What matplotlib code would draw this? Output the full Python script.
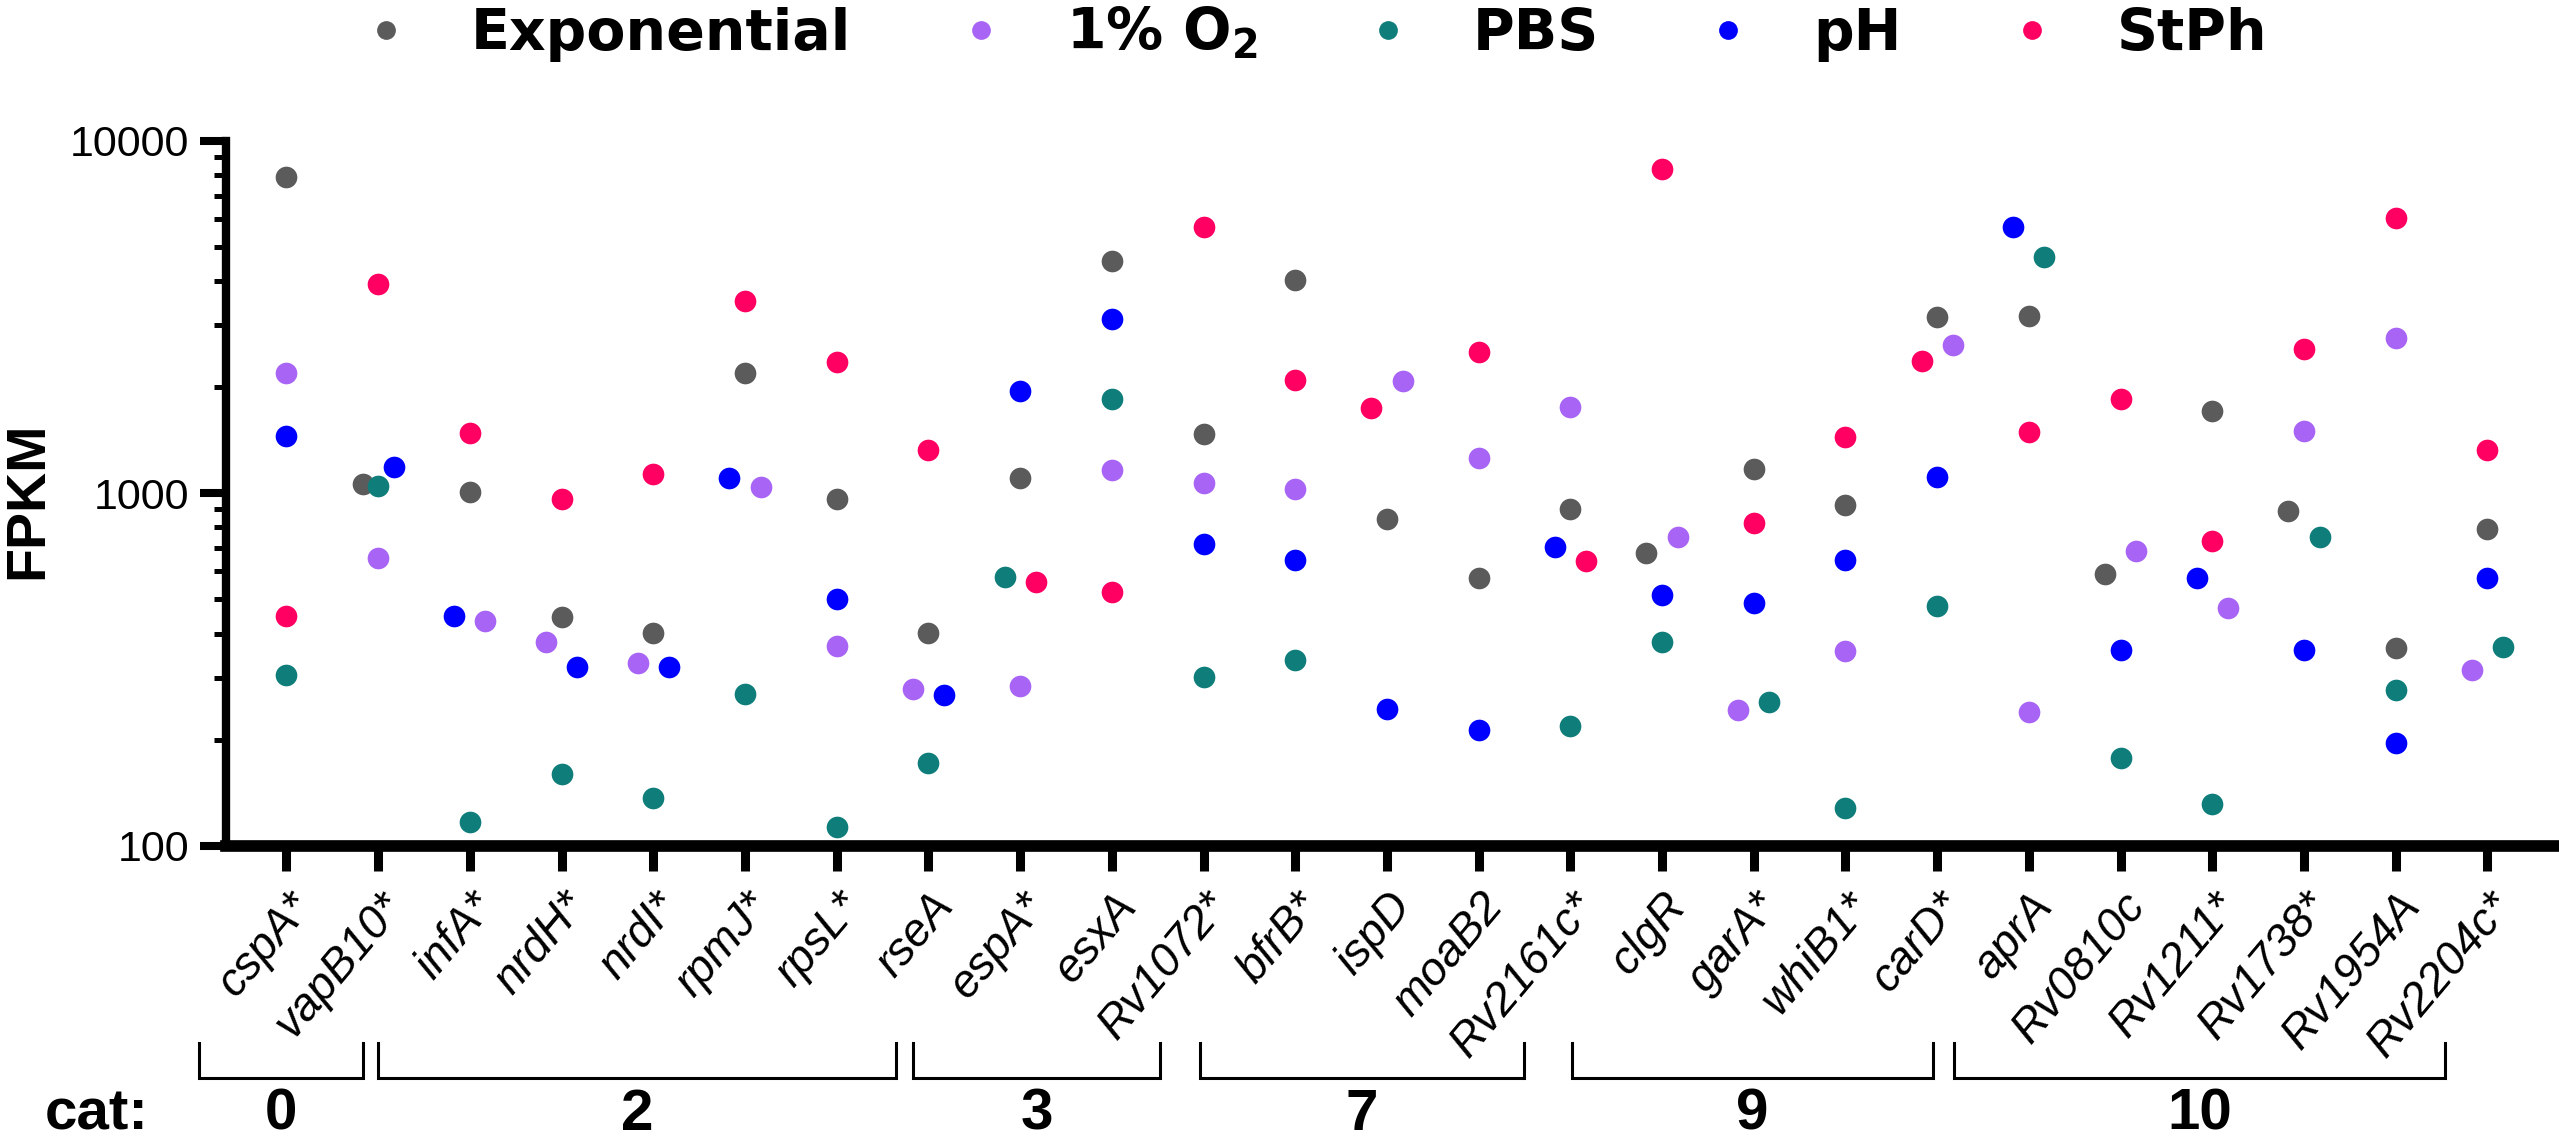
import numpy as np
import matplotlib.pyplot as plt
from matplotlib.lines import Line2D
from matplotlib import transforms
from matplotlib.ticker import NullFormatter, LogLocator

plt.rcParams['font.family'] = ['Liberation Sans', 'DejaVu Sans']
plt.rcParams['mathtext.default'] = 'bf'

# genes on the x axis (asterisk kept as in the figure)
genes = ['cspA*', 'vapB10*', 'infA*', 'nrdH*', 'nrdI*', 'rpmJ*', 'rpsL*', 'rseA',
         'espA*', 'esxA', 'Rv1072*', 'bfrB*', 'ispD', 'moaB2', 'Rv2161c*', 'clgR',
         'garA*', 'whiB1*', 'carD*', 'aprA', 'Rv0810c', 'Rv1211*', 'Rv1738*',
         'Rv1954A', 'Rv2204c*']

# FPKM per condition (nan = not shown)
exponential = [7880, 1062, 1008, 445, 401, 2199, 961, 402, 1103, 4560, 1474, 4030, 845,
               576, 902, 677, 1175, 928, 3170, 3190, 590, 1708, 889, 365, 794]
o2 = [2199, 656, 434, 379, 329, 1044, 369, 278, 284, 1167, 1069, 1031, 2083,
      1257, 1761, 751, 242, 358, 2641, 240, 684, 474, 1505, 2764, 315]
pbs = [306, 1049, 117, 160, 137, 269, 113, 172, 579, 1856, 301, 336, np.nan,
       np.nan, 219, 378, 256, 128, 480, 4674, 177, 131, 750, 277, 367]
ph = [1455, 1185, 449, 322, 321, 1105, 501, 268, 1950, 3130, 718, 646, 245,
      213, 703, 513, 487, 648, 1115, 5710, 359, 576, 359, 196, 576]
stph = [449, 3925, 1480, 966, 1134, 3520, 2363, 1327, 560, 524, 5685, 2097, 1750,
        2518, 642, 8340, 822, 1448, 2374, 1489, 1848, 732, 2567, 6060, 1330]

cond_keys = ['exp', 'o2', 'pbs', 'ph', 'stph']
cond_labels = ['Exponential', '1% O$_2$', 'PBS', 'pH', 'StPh']
series = [exponential, o2, pbs, ph, stph]

categories = ['0', '2', '3', '7', '9', '10']

# ---- layout / style ----
colors = ['#5b5b5b', '#a865f5', '#0f7e7a', '#0000ff', '#ff0062']

# side used for overlapping dots (-1 left, +1 right), as in the original figure
dodge = {
    'vapB10*': {'exp': -1, 'ph': 1},
    'infA*': {'ph': -1, 'o2': 1},
    'nrdH*': {'o2': -1, 'ph': 1},
    'nrdI*': {'o2': -1, 'ph': 1},
    'rpmJ*': {'ph': -1, 'o2': 1},
    'rseA': {'o2': -1, 'ph': 1},
    'espA*': {'pbs': -1, 'stph': 1},
    'ispD': {'stph': -1, 'o2': 1},
    'Rv2161c*': {'ph': -1, 'stph': 1},
    'clgR': {'exp': -1, 'o2': 1},
    'garA*': {'o2': -1, 'pbs': 1},
    'carD*': {'stph': -1, 'o2': 1},
    'aprA': {'ph': -1, 'pbs': 1},
    'Rv0810c': {'exp': -1, 'o2': 1},
    'Rv1211*': {'ph': -1, 'o2': 1},
    'Rv1738*': {'exp': -1, 'pbs': 1},
    'Rv2204c*': {'o2': -1, 'pbs': 1},
}
step = 0.17

# bracket extents under the gene labels, in gene-index units
cat_spans = [(-0.95, 0.83), (1.0, 6.65), (6.83, 9.53), (9.96, 13.5),
             (14.02, 17.95), (18.18, 23.54)]

fig = plt.figure(figsize=(25.59, 11.45), dpi=100)
ax = fig.add_axes([0.0883, 0.2614, 0.9113, 0.6155])

for key, vals, col in zip(cond_keys, series, colors):
    xs = [i + step * dodge.get(g, {}).get(key, 0) for i, g in enumerate(genes)]
    ax.plot(xs, vals, 'o', ms=15.6, color=col, mec='none', ls='none',
            clip_on=False, zorder=3)

ax.set_yscale('log')
ax.set_ylim(100, 10000)
ax.set_xlim(-0.66, 24.77)
ax.set_yticks([100, 1000, 10000])
ax.set_yticklabels(['100', '1000', '10000'])
ax.yaxis.set_minor_locator(LogLocator(base=10, subs=np.arange(2, 10)))
ax.yaxis.set_minor_formatter(NullFormatter())

ax.set_xticks(range(len(genes)))
ax.set_xticklabels(genes, rotation=50, ha='right', rotation_mode='anchor',
                   fontstyle='italic', fontsize=33)

for s in ['top', 'right']:
    ax.spines[s].set_visible(False)
ax.spines['left'].set_linewidth(6)
ax.spines['bottom'].set_linewidth(8.4)

ax.tick_params(axis='y', which='major', length=18.5, width=5.8, pad=8, labelsize=31)
ax.tick_params(axis='y', which='minor', length=8.6, width=3.6)
ax.tick_params(axis='x', which='major', length=18, width=6.5, pad=10)

fig.text(0.001, 0.5633, 'FPKM', rotation=90, ha='left', va='center',
         fontsize=40, fontweight='bold')

# category brackets
trans = transforms.blended_transform_factory(ax.transData, fig.transFigure)
for cat, (a, b) in zip(categories, cat_spans):
    ax.plot([a, a, b, b], [0.0891, 0.0585, 0.0585, 0.0891], transform=trans,
            color='black', lw=2.2, clip_on=False, solid_joinstyle='miter')
    ax.text((a + b) / 2, 0.003, cat, transform=trans, ha='center', va='bottom',
            fontsize=42, fontweight='bold')
fig.text(0.0176, 0.003, 'cat:', ha='left', va='bottom', fontsize=42,
         fontweight='bold')

handles = [Line2D([], [], marker='o', ls='none', ms=13.5, color=c, mec='none')
           for c in colors]
fig.legend(handles, cond_labels, loc='center', bbox_to_anchor=(0.5156, 0.9703),
           ncol=5, frameon=False, handlelength=0.5, handletextpad=1.24,
           columnspacing=2.03, borderaxespad=0,
           prop={'family': 'DejaVu Sans', 'weight': 'bold', 'size': 41})

fig.savefig('out.png', dpi=100)
